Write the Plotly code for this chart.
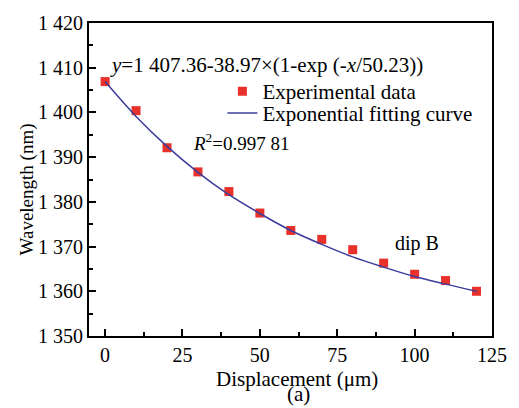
import plotly.graph_objects as go

disp = [0, 10, 20, 30, 40, 50, 60, 70, 80, 90, 100, 110, 120]
wavelength = [1406.9, 1400.4, 1392.1, 1386.7, 1382.3, 1377.5, 1373.6, 1371.6, 1369.3, 1366.3, 1363.8, 1362.4, 1360.0]

# Fitting curve as drawn
fit_x = [0, 10, 20, 30, 40, 50, 60, 70, 80, 90, 100, 110, 120]
fit_y = [1406.9, 1399.1, 1392.4, 1386.6, 1381.6, 1377.4, 1373.6, 1370.5, 1367.7, 1365.4, 1363.3, 1361.6, 1360.0]

y_ticks = [1350, 1360, 1370, 1380, 1390, 1400, 1410, 1420]
y_ticktext = ["1 350", "1 360", "1 370", "1 380", "1 390", "1 400", "1 410", "1 420"]
x_ticks = [0, 25, 50, 75, 100, 125]

FONT = "Liberation Serif, Times New Roman, serif"

fig = go.Figure()
fig.add_trace(go.Scatter(
    x=disp, y=wavelength, mode="markers", name="Experimental data",
    marker=dict(symbol="square", size=9, color="#e8312a", line=dict(width=0)),
    legend="legend",
))
fig.add_trace(go.Scatter(
    x=fit_x, y=fit_y, mode="lines", name="Exponential fitting curve",
    line=dict(color="#3c3c9c", width=1.5, shape="spline"),
    legend="legend2",
))

axis_common = dict(
    showline=True, linecolor="black", linewidth=2, mirror=True,
    ticks="inside", ticklen=7, tickwidth=1.5, tickcolor="black",
    showgrid=False, zeroline=False,
    tickfont=dict(family=FONT, size=20, color="black"),
)

fig.update_xaxes(
    range=[-5.2, 125], tickvals=x_ticks,
    minor=dict(ticks="inside", ticklen=4, tickwidth=1.5, tickcolor="black", dtick=12.5, tick0=0),
    **axis_common,
)
fig.update_yaxes(
    range=[1350, 1420], tickvals=y_ticks, ticktext=y_ticktext,
    minor=dict(ticks="inside", ticklen=4, tickwidth=1.5, tickcolor="black", dtick=5, tick0=1350),
    **axis_common,
)

leg_font = dict(family=FONT, size=21, color="black")
legend_common = dict(xanchor="left", yanchor="middle", bgcolor="rgba(0,0,0,0)",
                     borderwidth=0, font=leg_font)

big = dict(family=FONT, size=21, color="black")
fig.update_layout(
    width=519, height=408,
    margin=dict(l=89, r=20, t=21, b=72),
    paper_bgcolor="white", plot_bgcolor="white",
    font=dict(family=FONT, color="black"),
    showlegend=True,
    legend=dict(x=0.331, y=0.781, **legend_common),
    legend2=dict(x=0.331, y=0.711, **legend_common),
    annotations=[
        dict(text="<i>y</i>=1 407.36-38.97×(1-exp (-<i>x</i>/50.23))",
             x=0.046, y=0.867, xref="paper", yref="paper",
             xanchor="left", yanchor="middle", showarrow=False, font=big),
        dict(text="<i>R</i><sup>2</sup>=0.997 81",
             x=0.254, y=0.619, xref="paper", yref="paper",
             xanchor="left", yanchor="middle", showarrow=False,
             font=dict(family=FONT, size=19, color="black")),
        dict(text="dip B",
             x=0.754, y=0.295, xref="paper", yref="paper",
             xanchor="left", yanchor="middle", showarrow=False,
             font=dict(family=FONT, size=20, color="black")),
        dict(text="Displacement (μm)",
             x=0.515, y=-0.137, xref="paper", yref="paper",
             xanchor="center", yanchor="middle", showarrow=False, font=big),
        dict(text="(a)",
             x=0.52, y=-0.2286, xref="paper", yref="paper",
             xanchor="center", yanchor="bottom", showarrow=False, font=big),
        dict(text="Wavelength (nm)", textangle=-90,
             x=-0.154, y=0.468, xref="paper", yref="paper",
             xanchor="center", yanchor="middle", showarrow=False,
             font=dict(family=FONT, size=19, color="black")),
    ],
)

fig.write_html("out.html", post_script="document.body.style.margin='0px';",
               config={"displayModeBar": False})
